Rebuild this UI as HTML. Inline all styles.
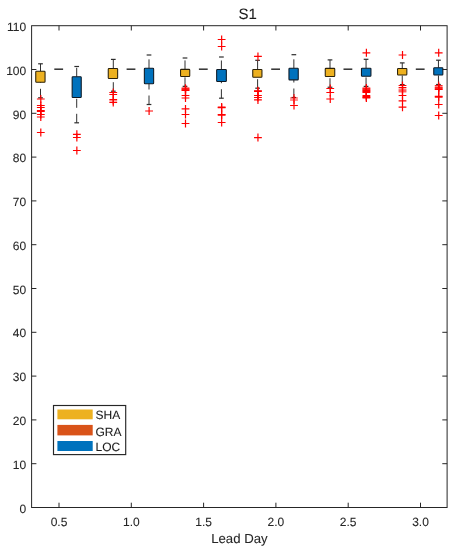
<!DOCTYPE html>
<html><head><meta charset="utf-8"><title>S1</title>
<style>
html,body{margin:0;padding:0;background:#fff;}
body{width:456px;height:550px;overflow:hidden;font-family:"Liberation Sans",sans-serif;}
svg{display:block;will-change:transform;text-rendering:geometricPrecision;}
text{stroke:#262626;stroke-width:0.08px;font-family:"Liberation Sans",sans-serif;}
</style></head><body>
<svg width="456" height="550" viewBox="0 0 456 550">
<rect x="0" y="0" width="456" height="550" fill="#fff"/>
<line x1="54.3" y1="69.2" x2="63.1" y2="69.2" stroke="#303030" stroke-width="1.5"/>
<line x1="126.6" y1="69.2" x2="135.4" y2="69.2" stroke="#303030" stroke-width="1.5"/>
<line x1="198.9" y1="69.2" x2="207.7" y2="69.2" stroke="#303030" stroke-width="1.5"/>
<line x1="271.2" y1="69.2" x2="280.0" y2="69.2" stroke="#303030" stroke-width="1.5"/>
<line x1="343.5" y1="69.2" x2="352.3" y2="69.2" stroke="#303030" stroke-width="1.5"/>
<line x1="415.8" y1="69.2" x2="424.6" y2="69.2" stroke="#303030" stroke-width="1.5"/>
<line x1="40.5" y1="71.3" x2="40.5" y2="63.8" stroke="#262626" stroke-width="0.95" stroke-dasharray="9 6"/>
<line x1="40.5" y1="97.8" x2="40.5" y2="82.2" stroke="#262626" stroke-width="0.95" stroke-dasharray="9 6"/>
<line x1="38.15" y1="63.8" x2="42.85" y2="63.8" stroke="#2c2c2c" stroke-width="1.2"/>
<line x1="38.15" y1="97.8" x2="42.85" y2="97.8" stroke="#2c2c2c" stroke-width="1.2"/>
<rect x="35.75" y="71.25" width="9.30" height="11.00" rx="0.7" fill="#EDB120" stroke="#2a2008" stroke-width="1.05"/>
<path d="M36.90 99.0H44.70M40.80 95.0V103.0" stroke="#ff0000" stroke-width="1.2" fill="none"/>
<path d="M36.90 105.5H44.70M40.80 101.5V109.5" stroke="#ff0000" stroke-width="1.2" fill="none"/>
<path d="M36.90 107.5H44.70M40.80 103.5V111.5" stroke="#ff0000" stroke-width="1.2" fill="none"/>
<path d="M36.90 110.6H44.70M40.80 106.6V114.6" stroke="#ff0000" stroke-width="1.2" fill="none"/>
<path d="M36.90 111.4H44.70M40.80 107.4V115.4" stroke="#ff0000" stroke-width="1.2" fill="none"/>
<path d="M36.90 114.5H44.70M40.80 110.5V118.5" stroke="#ff0000" stroke-width="1.2" fill="none"/>
<path d="M36.90 117H44.70M40.80 113V121" stroke="#ff0000" stroke-width="1.2" fill="none"/>
<path d="M36.90 132.5H44.70M40.80 128.5V136.5" stroke="#ff0000" stroke-width="1.2" fill="none"/>
<line x1="76.7" y1="76.8" x2="76.7" y2="66.5" stroke="#262626" stroke-width="0.95" stroke-dasharray="9 6"/>
<line x1="76.7" y1="122.8" x2="76.7" y2="97.4" stroke="#262626" stroke-width="0.95" stroke-dasharray="9 6"/>
<line x1="74.35" y1="66.5" x2="79.05" y2="66.5" stroke="#2c2c2c" stroke-width="1.2"/>
<line x1="74.35" y1="122.8" x2="79.05" y2="122.8" stroke="#2c2c2c" stroke-width="1.2"/>
<rect x="72.15" y="76.75" width="9.10" height="20.70" rx="0.7" fill="#0072BD" stroke="#0c1824" stroke-width="1.05"/>
<path d="M72.95 134.3H80.75M76.85 130.3V138.3" stroke="#ff0000" stroke-width="1.2" fill="none"/>
<path d="M72.95 137.5H80.75M76.85 133.5V141.5" stroke="#ff0000" stroke-width="1.2" fill="none"/>
<path d="M72.95 150.5H80.75M76.85 146.5V154.5" stroke="#ff0000" stroke-width="1.2" fill="none"/>
<line x1="113.3" y1="68.6" x2="113.3" y2="59.4" stroke="#262626" stroke-width="0.95" stroke-dasharray="9 6"/>
<line x1="113.3" y1="91.2" x2="113.3" y2="78.4" stroke="#262626" stroke-width="0.95" stroke-dasharray="9 6"/>
<line x1="110.95" y1="59.4" x2="115.65" y2="59.4" stroke="#2c2c2c" stroke-width="1.2"/>
<line x1="110.95" y1="91.2" x2="115.65" y2="91.2" stroke="#2c2c2c" stroke-width="1.2"/>
<rect x="108.25" y="68.55" width="9.40" height="9.90" rx="0.7" fill="#EDB120" stroke="#2a2008" stroke-width="1.05"/>
<path d="M109.35 92.5H117.15M113.25 88.5V96.5" stroke="#ff0000" stroke-width="1.2" fill="none"/>
<path d="M109.35 94.5H117.15M113.25 90.5V98.5" stroke="#ff0000" stroke-width="1.2" fill="none"/>
<path d="M109.35 99.5H117.15M113.25 95.5V103.5" stroke="#ff0000" stroke-width="1.2" fill="none"/>
<path d="M109.35 100.9H117.15M113.25 96.9V104.9" stroke="#ff0000" stroke-width="1.2" fill="none" stroke-opacity="0.6"/>
<path d="M109.35 102.5H117.15M113.25 98.5V106.5" stroke="#ff0000" stroke-width="1.2" fill="none"/>
<line x1="149" y1="68.35" x2="149" y2="55" stroke="#262626" stroke-width="0.95" stroke-dasharray="9 6"/>
<line x1="149" y1="104.5" x2="149" y2="83.6" stroke="#262626" stroke-width="0.95" stroke-dasharray="9 6"/>
<line x1="146.65" y1="55" x2="151.35" y2="55" stroke="#2c2c2c" stroke-width="1.2"/>
<line x1="146.65" y1="104.5" x2="151.35" y2="104.5" stroke="#2c2c2c" stroke-width="1.2"/>
<rect x="144.35" y="68.30" width="9.30" height="15.35" rx="0.7" fill="#0072BD" stroke="#0c1824" stroke-width="1.05"/>
<path d="M145.20 111H153.00M149.10 107V115" stroke="#ff0000" stroke-width="1.2" fill="none"/>
<line x1="185.0" y1="69.4" x2="185.0" y2="58" stroke="#262626" stroke-width="0.95" stroke-dasharray="9 6"/>
<line x1="185.0" y1="86.35" x2="185.0" y2="76.5" stroke="#262626" stroke-width="0.95" stroke-dasharray="9 6"/>
<line x1="182.65" y1="58" x2="187.35" y2="58" stroke="#2c2c2c" stroke-width="1.2"/>
<line x1="182.65" y1="86.35" x2="187.35" y2="86.35" stroke="#2c2c2c" stroke-width="1.2"/>
<rect x="180.55" y="69.35" width="9.20" height="7.20" rx="0.7" fill="#EDB120" stroke="#2a2008" stroke-width="1.05"/>
<path d="M181.60 88.15H189.40M185.50 84.15V92.15" stroke="#ff0000" stroke-width="1.2" fill="none"/>
<path d="M181.60 89.0H189.40M185.50 85.0V93.0" stroke="#ff0000" stroke-width="1.2" fill="none"/>
<path d="M181.60 89.8H189.40M185.50 85.8V93.8" stroke="#ff0000" stroke-width="1.2" fill="none"/>
<path d="M181.60 90.4H189.40M185.50 86.4V94.4" stroke="#ff0000" stroke-width="1.2" fill="none"/>
<path d="M181.60 95.5H189.40M185.50 91.5V99.5" stroke="#ff0000" stroke-width="1.2" fill="none"/>
<path d="M181.60 98.0H189.40M185.50 94.0V102.0" stroke="#ff0000" stroke-width="1.2" fill="none"/>
<path d="M181.60 108.9H189.40M185.50 104.9V112.9" stroke="#ff0000" stroke-width="1.2" fill="none"/>
<path d="M181.60 114.5H189.40M185.50 110.5V118.5" stroke="#ff0000" stroke-width="1.2" fill="none"/>
<path d="M181.60 123.5H189.40M185.50 119.5V127.5" stroke="#ff0000" stroke-width="1.2" fill="none"/>
<line x1="221.4" y1="69.5" x2="221.4" y2="57" stroke="#262626" stroke-width="0.95" stroke-dasharray="9 6"/>
<line x1="221.4" y1="98.2" x2="221.4" y2="81.5" stroke="#262626" stroke-width="0.95" stroke-dasharray="9 6"/>
<line x1="219.05" y1="57" x2="223.75" y2="57" stroke="#2c2c2c" stroke-width="1.2"/>
<line x1="219.05" y1="98.2" x2="223.75" y2="98.2" stroke="#2c2c2c" stroke-width="1.2"/>
<rect x="216.65" y="69.45" width="9.70" height="12.10" rx="0.7" fill="#0072BD" stroke="#0c1824" stroke-width="1.05"/>
<path d="M217.75 39.5H225.55M221.65 35.5V43.5" stroke="#ff0000" stroke-width="1.2" fill="none"/>
<path d="M217.75 46.5H225.55M221.65 42.5V50.5" stroke="#ff0000" stroke-width="1.2" fill="none"/>
<path d="M217.75 107.1H225.55M221.65 103.1V111.1" stroke="#ff0000" stroke-width="1.2" fill="none"/>
<path d="M217.75 107.7H225.55M221.65 103.7V111.7" stroke="#ff0000" stroke-width="1.2" fill="none"/>
<path d="M217.75 114.5H225.55M221.65 110.5V118.5" stroke="#ff0000" stroke-width="1.2" fill="none"/>
<path d="M217.75 115.1H225.55M221.65 111.1V119.1" stroke="#ff0000" stroke-width="1.2" fill="none"/>
<path d="M217.75 122.5H225.55M221.65 118.5V126.5" stroke="#ff0000" stroke-width="1.2" fill="none"/>
<line x1="257.6" y1="69.45" x2="257.6" y2="60.3" stroke="#262626" stroke-width="0.95" stroke-dasharray="9 6"/>
<line x1="257.6" y1="88.2" x2="257.6" y2="77.2" stroke="#262626" stroke-width="0.95" stroke-dasharray="9 6"/>
<line x1="255.25" y1="60.3" x2="259.95" y2="60.3" stroke="#2c2c2c" stroke-width="1.2"/>
<line x1="255.25" y1="88.2" x2="259.95" y2="88.2" stroke="#2c2c2c" stroke-width="1.2"/>
<rect x="252.75" y="69.40" width="9.20" height="7.85" rx="0.7" fill="#EDB120" stroke="#2a2008" stroke-width="1.05"/>
<path d="M254.05 56.4H261.85M257.95 52.4V60.4" stroke="#ff0000" stroke-width="1.2" fill="none"/>
<path d="M254.05 90.75H261.85M257.95 86.75V94.75" stroke="#ff0000" stroke-width="1.2" fill="none"/>
<path d="M254.05 91.35H261.85M257.95 87.35V95.35" stroke="#ff0000" stroke-width="1.2" fill="none"/>
<path d="M254.05 95.5H261.85M257.95 91.5V99.5" stroke="#ff0000" stroke-width="1.2" fill="none"/>
<path d="M254.05 97.5H261.85M257.95 93.5V101.5" stroke="#ff0000" stroke-width="1.2" fill="none"/>
<path d="M254.05 99.9H261.85M257.95 95.9V103.9" stroke="#ff0000" stroke-width="1.2" fill="none"/>
<path d="M254.05 137.6H261.85M257.95 133.6V141.6" stroke="#ff0000" stroke-width="1.2" fill="none"/>
<line x1="293.85" y1="68.3" x2="293.85" y2="54.7" stroke="#262626" stroke-width="0.95" stroke-dasharray="9 6"/>
<line x1="293.85" y1="97.5" x2="293.85" y2="79.8" stroke="#262626" stroke-width="0.95" stroke-dasharray="9 6"/>
<line x1="291.50" y1="54.7" x2="296.20" y2="54.7" stroke="#2c2c2c" stroke-width="1.2"/>
<line x1="291.50" y1="97.5" x2="296.20" y2="97.5" stroke="#2c2c2c" stroke-width="1.2"/>
<rect x="288.95" y="68.25" width="9.30" height="11.60" rx="0.7" fill="#0072BD" stroke="#0c1824" stroke-width="1.05"/>
<path d="M290.10 98.0H297.90M294.00 94.0V102.0" stroke="#ff0000" stroke-width="1.2" fill="none" stroke-opacity="0.85"/>
<path d="M290.10 100.0H297.90M294.00 96.0V104.0" stroke="#ff0000" stroke-width="1.2" fill="none" stroke-opacity="0.85"/>
<path d="M290.10 105.5H297.90M294.00 101.5V109.5" stroke="#ff0000" stroke-width="1.2" fill="none"/>
<line x1="330" y1="68.4" x2="330" y2="59.9" stroke="#262626" stroke-width="0.95" stroke-dasharray="9 6"/>
<line x1="330" y1="87.25" x2="330" y2="76.4" stroke="#262626" stroke-width="0.95" stroke-dasharray="9 6"/>
<line x1="327.65" y1="59.9" x2="332.35" y2="59.9" stroke="#2c2c2c" stroke-width="1.2"/>
<line x1="327.65" y1="87.25" x2="332.35" y2="87.25" stroke="#2c2c2c" stroke-width="1.2"/>
<rect x="325.25" y="68.35" width="9.50" height="8.10" rx="0.7" fill="#EDB120" stroke="#2a2008" stroke-width="1.05"/>
<path d="M326.35 88.5H334.15M330.25 84.5V92.5" stroke="#ff0000" stroke-width="1.2" fill="none"/>
<path d="M326.35 92.5H334.15M330.25 88.5V96.5" stroke="#ff0000" stroke-width="1.2" fill="none"/>
<path d="M326.35 99.0H334.15M330.25 95.0V103.0" stroke="#ff0000" stroke-width="1.2" fill="none"/>
<line x1="366.05" y1="68.2" x2="366.05" y2="59.3" stroke="#262626" stroke-width="0.95" stroke-dasharray="9 6"/>
<line x1="366.05" y1="86.4" x2="366.05" y2="76.1" stroke="#262626" stroke-width="0.95" stroke-dasharray="9 6"/>
<line x1="363.70" y1="59.3" x2="368.40" y2="59.3" stroke="#2c2c2c" stroke-width="1.2"/>
<line x1="363.70" y1="86.4" x2="368.40" y2="86.4" stroke="#2c2c2c" stroke-width="1.2"/>
<rect x="361.45" y="68.15" width="9.50" height="8.00" rx="0.7" fill="#0072BD" stroke="#0c1824" stroke-width="1.05"/>
<path d="M362.50 52.8H370.30M366.40 48.8V56.8" stroke="#ff0000" stroke-width="1.2" fill="none"/>
<path d="M362.50 88.0H370.30M366.40 84.0V92.0" stroke="#ff0000" stroke-width="1.2" fill="none"/>
<path d="M362.50 88.9H370.30M366.40 84.9V92.9" stroke="#ff0000" stroke-width="1.2" fill="none"/>
<path d="M362.50 89.8H370.30M366.40 85.8V93.8" stroke="#ff0000" stroke-width="1.2" fill="none"/>
<path d="M362.50 90.7H370.30M366.40 86.7V94.7" stroke="#ff0000" stroke-width="1.2" fill="none"/>
<path d="M362.50 91.6H370.30M366.40 87.6V95.6" stroke="#ff0000" stroke-width="1.2" fill="none"/>
<path d="M362.50 92.3H370.30M366.40 88.3V96.3" stroke="#ff0000" stroke-width="1.2" fill="none"/>
<path d="M362.50 95.7H370.30M366.40 91.7V99.7" stroke="#ff0000" stroke-width="1.2" fill="none"/>
<path d="M362.50 96.6H370.30M366.40 92.6V100.6" stroke="#ff0000" stroke-width="1.2" fill="none"/>
<path d="M362.50 97.5H370.30M366.40 93.5V101.5" stroke="#ff0000" stroke-width="1.2" fill="none"/>
<path d="M362.50 98.0H370.30M366.40 94.0V102.0" stroke="#ff0000" stroke-width="1.2" fill="none"/>
<line x1="402.25" y1="68.45" x2="402.25" y2="62.9" stroke="#262626" stroke-width="0.95" stroke-dasharray="9 6"/>
<line x1="402.25" y1="84.6" x2="402.25" y2="74.95" stroke="#262626" stroke-width="0.95" stroke-dasharray="9 6"/>
<line x1="399.90" y1="62.9" x2="404.60" y2="62.9" stroke="#2c2c2c" stroke-width="1.2"/>
<line x1="399.90" y1="84.6" x2="404.60" y2="84.6" stroke="#2c2c2c" stroke-width="1.2"/>
<rect x="397.55" y="68.40" width="9.30" height="6.60" rx="0.7" fill="#EDB120" stroke="#2a2008" stroke-width="1.05"/>
<path d="M398.60 55H406.40M402.50 51V59" stroke="#ff0000" stroke-width="1.2" fill="none"/>
<path d="M398.60 85.5H406.40M402.50 81.5V89.5" stroke="#ff0000" stroke-width="1.2" fill="none"/>
<path d="M398.60 87.5H406.40M402.50 83.5V91.5" stroke="#ff0000" stroke-width="1.2" fill="none"/>
<path d="M398.60 89.0H406.40M402.50 85.0V93.0" stroke="#ff0000" stroke-width="1.2" fill="none" stroke-opacity="0.6"/>
<path d="M398.60 90.2H406.40M402.50 86.2V94.2" stroke="#ff0000" stroke-width="1.2" fill="none" stroke-opacity="0.6"/>
<path d="M398.60 91.1H406.40M402.50 87.1V95.1" stroke="#ff0000" stroke-width="1.2" fill="none" stroke-opacity="0.6"/>
<path d="M398.60 92.0H406.40M402.50 88.0V96.0" stroke="#ff0000" stroke-width="1.2" fill="none" stroke-opacity="0.6"/>
<path d="M398.60 95.5H406.40M402.50 91.5V99.5" stroke="#ff0000" stroke-width="1.2" fill="none"/>
<path d="M398.60 100.8H406.40M402.50 96.8V104.8" stroke="#ff0000" stroke-width="1.2" fill="none"/>
<path d="M398.60 107.2H406.40M402.50 103.2V111.2" stroke="#ff0000" stroke-width="1.2" fill="none"/>
<line x1="438.45" y1="67.7" x2="438.45" y2="60.2" stroke="#262626" stroke-width="0.95" stroke-dasharray="9 6"/>
<line x1="438.45" y1="84.5" x2="438.45" y2="74.95" stroke="#262626" stroke-width="0.95" stroke-dasharray="9 6"/>
<line x1="436.10" y1="60.2" x2="440.80" y2="60.2" stroke="#2c2c2c" stroke-width="1.2"/>
<line x1="436.10" y1="84.5" x2="440.80" y2="84.5" stroke="#2c2c2c" stroke-width="1.2"/>
<rect x="433.75" y="67.65" width="9.10" height="7.35" rx="0.7" fill="#0072BD" stroke="#0c1824" stroke-width="1.05"/>
<path d="M434.80 52.8H442.60M438.70 48.8V56.8" stroke="#ff0000" stroke-width="1.2" fill="none"/>
<path d="M434.80 85.5H442.60M438.70 81.5V89.5" stroke="#ff0000" stroke-width="1.2" fill="none" stroke-opacity="0.85"/>
<path d="M434.80 87.0H442.60M438.70 83.0V91.0" stroke="#ff0000" stroke-width="1.2" fill="none"/>
<path d="M434.80 87.9H442.60M438.70 83.9V91.9" stroke="#ff0000" stroke-width="1.2" fill="none"/>
<path d="M434.80 88.8H442.60M438.70 84.8V92.8" stroke="#ff0000" stroke-width="1.2" fill="none"/>
<path d="M434.80 89.5H442.60M438.70 85.5V93.5" stroke="#ff0000" stroke-width="1.2" fill="none"/>
<path d="M434.80 96.4H442.60M438.70 92.4V100.4" stroke="#ff0000" stroke-width="1.2" fill="none"/>
<path d="M434.80 97.1H442.60M438.70 93.1V101.1" stroke="#ff0000" stroke-width="1.2" fill="none"/>
<path d="M434.80 104.5H442.60M438.70 100.5V108.5" stroke="#ff0000" stroke-width="1.2" fill="none"/>
<path d="M434.80 115.5H442.60M438.70 111.5V119.5" stroke="#ff0000" stroke-width="1.2" fill="none"/>
<rect x="31.6" y="25.7" width="415.5" height="481.8" fill="none" stroke="#262626" stroke-width="1"/>
<line x1="59.0" y1="507.5" x2="59.0" y2="502.7" stroke="#262626" stroke-width="1"/>
<line x1="59.0" y1="25.7" x2="59.0" y2="30.5" stroke="#262626" stroke-width="1"/>
<text x="59.0" y="525.7" font-size="12" text-anchor="middle" fill="#262626">0.5</text>
<line x1="131.3" y1="507.5" x2="131.3" y2="502.7" stroke="#262626" stroke-width="1"/>
<line x1="131.3" y1="25.7" x2="131.3" y2="30.5" stroke="#262626" stroke-width="1"/>
<text x="131.3" y="525.7" font-size="12" text-anchor="middle" fill="#262626">1.0</text>
<line x1="203.6" y1="507.5" x2="203.6" y2="502.7" stroke="#262626" stroke-width="1"/>
<line x1="203.6" y1="25.7" x2="203.6" y2="30.5" stroke="#262626" stroke-width="1"/>
<text x="203.6" y="525.7" font-size="12" text-anchor="middle" fill="#262626">1.5</text>
<line x1="275.9" y1="507.5" x2="275.9" y2="502.7" stroke="#262626" stroke-width="1"/>
<line x1="275.9" y1="25.7" x2="275.9" y2="30.5" stroke="#262626" stroke-width="1"/>
<text x="275.9" y="525.7" font-size="12" text-anchor="middle" fill="#262626">2.0</text>
<line x1="348.2" y1="507.5" x2="348.2" y2="502.7" stroke="#262626" stroke-width="1"/>
<line x1="348.2" y1="25.7" x2="348.2" y2="30.5" stroke="#262626" stroke-width="1"/>
<text x="348.2" y="525.7" font-size="12" text-anchor="middle" fill="#262626">2.5</text>
<line x1="420.5" y1="507.5" x2="420.5" y2="502.7" stroke="#262626" stroke-width="1"/>
<line x1="420.5" y1="25.7" x2="420.5" y2="30.5" stroke="#262626" stroke-width="1"/>
<text x="420.5" y="525.7" font-size="12" text-anchor="middle" fill="#262626">3.0</text>
<text x="26.2" y="512.6" font-size="12" text-anchor="end" fill="#262626">0</text>
<line x1="31.6" y1="463.7" x2="36.4" y2="463.7" stroke="#262626" stroke-width="1"/>
<line x1="447.1" y1="463.7" x2="442.3" y2="463.7" stroke="#262626" stroke-width="1"/>
<text x="26.2" y="468.8" font-size="12" text-anchor="end" fill="#262626">10</text>
<line x1="31.6" y1="419.9" x2="36.4" y2="419.9" stroke="#262626" stroke-width="1"/>
<line x1="447.1" y1="419.9" x2="442.3" y2="419.9" stroke="#262626" stroke-width="1"/>
<text x="26.2" y="425.0" font-size="12" text-anchor="end" fill="#262626">20</text>
<line x1="31.6" y1="376.1" x2="36.4" y2="376.1" stroke="#262626" stroke-width="1"/>
<line x1="447.1" y1="376.1" x2="442.3" y2="376.1" stroke="#262626" stroke-width="1"/>
<text x="26.2" y="381.2" font-size="12" text-anchor="end" fill="#262626">30</text>
<line x1="31.6" y1="332.3" x2="36.4" y2="332.3" stroke="#262626" stroke-width="1"/>
<line x1="447.1" y1="332.3" x2="442.3" y2="332.3" stroke="#262626" stroke-width="1"/>
<text x="26.2" y="337.4" font-size="12" text-anchor="end" fill="#262626">40</text>
<line x1="31.6" y1="288.5" x2="36.4" y2="288.5" stroke="#262626" stroke-width="1"/>
<line x1="447.1" y1="288.5" x2="442.3" y2="288.5" stroke="#262626" stroke-width="1"/>
<text x="26.2" y="293.6" font-size="12" text-anchor="end" fill="#262626">50</text>
<line x1="31.6" y1="244.7" x2="36.4" y2="244.7" stroke="#262626" stroke-width="1"/>
<line x1="447.1" y1="244.7" x2="442.3" y2="244.7" stroke="#262626" stroke-width="1"/>
<text x="26.2" y="249.8" font-size="12" text-anchor="end" fill="#262626">60</text>
<line x1="31.6" y1="200.9" x2="36.4" y2="200.9" stroke="#262626" stroke-width="1"/>
<line x1="447.1" y1="200.9" x2="442.3" y2="200.9" stroke="#262626" stroke-width="1"/>
<text x="26.2" y="206.0" font-size="12" text-anchor="end" fill="#262626">70</text>
<line x1="31.6" y1="157.1" x2="36.4" y2="157.1" stroke="#262626" stroke-width="1"/>
<line x1="447.1" y1="157.1" x2="442.3" y2="157.1" stroke="#262626" stroke-width="1"/>
<text x="26.2" y="162.3" font-size="12" text-anchor="end" fill="#262626">80</text>
<line x1="31.6" y1="113.3" x2="36.4" y2="113.3" stroke="#262626" stroke-width="1"/>
<line x1="447.1" y1="113.3" x2="442.3" y2="113.3" stroke="#262626" stroke-width="1"/>
<text x="26.2" y="118.5" font-size="12" text-anchor="end" fill="#262626">90</text>
<line x1="31.6" y1="69.5" x2="36.4" y2="69.5" stroke="#262626" stroke-width="1"/>
<line x1="447.1" y1="69.5" x2="442.3" y2="69.5" stroke="#262626" stroke-width="1"/>
<text x="26.2" y="74.7" font-size="12" text-anchor="end" fill="#262626">100</text>
<text x="26.2" y="30.8" font-size="12" text-anchor="end" fill="#262626">110</text>
<text x="247.8" y="18.9" font-size="15" text-anchor="middle" fill="#1a1a1a">S1</text>
<text x="239.4" y="542.9" font-size="13.2" stroke-width="0.2" text-anchor="middle" fill="#262626">Lead Day</text>
<rect x="53.5" y="405.5" width="72.2" height="49.1" fill="#fff" stroke="#262626" stroke-width="1.15"/>
<rect x="57.4" y="409.5" width="35.3" height="9.800000000000011" fill="#EDB120"/>
<text x="95.5" y="419.4" font-size="12" stroke-width="0.25" fill="#1a1a1a">SHA</text>
<rect x="57.4" y="424.9" width="35.3" height="10.5" fill="#D95319"/>
<text x="95.5" y="435.5" font-size="12" stroke-width="0.25" fill="#1a1a1a">GRA</text>
<rect x="57.4" y="441" width="35.3" height="10" fill="#0072BD"/>
<text x="95.5" y="451.1" font-size="12" stroke-width="0.25" fill="#1a1a1a">LOC</text>
</svg>
</body></html>
